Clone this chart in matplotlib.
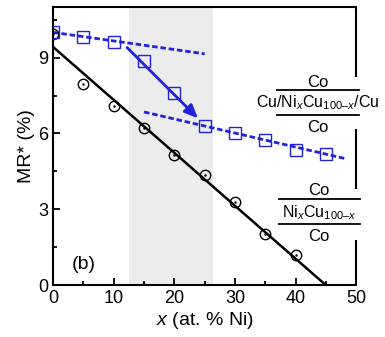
import matplotlib
matplotlib.use('Agg')
import matplotlib.pyplot as plt
from matplotlib.ticker import MultipleLocator

plt.rcParams['font.family'] = ['Liberation Sans', 'DejaVu Sans']
plt.rcParams['mathtext.fontset'] = 'custom'
plt.rcParams['mathtext.rm'] = 'Liberation Sans'
plt.rcParams['mathtext.it'] = 'Liberation Sans:italic'

# 데이터
x_ni = [0, 5, 10, 15, 20, 25, 30, 35, 40]
mr_single = [9.95, 7.97, 7.1, 6.2, 5.15, 4.34, 3.29, 2.01, 1.18]
x_sq = [0, 5, 10, 15, 20, 25, 30, 35, 40, 45]
mr_sandwich = [10.0, 9.8, 9.6, 8.86, 7.6, 6.28, 6.01, 5.75, 5.33, 5.2]

fit_single_x = [0, 45]
fit_single_y = [9.42, 0]
fit_low_x = [0, 25]
fit_low_y = [10.0, 9.15]
fit_high_x = [15, 48.3]
fit_high_y = [6.85, 5.0]

blue = '#2222dd'

fig = plt.figure(figsize=(3.85, 3.37), dpi=100)
ax = fig.add_axes([0.138, 0.154, 0.787, 0.825])

# 회색 영역
ax.axvspan(12.6, 26.4, color='#ececec', zorder=0, lw=0)

ax.plot(fit_single_x, fit_single_y, color='black', lw=1.8, zorder=2)
ax.plot(x_ni, mr_single, 'o', ms=7.5, mfc='none', mec='black', mew=1.0, zorder=3)
ax.plot(x_ni, mr_single, '.', ms=1.5, color='black', zorder=3)

ax.plot(fit_low_x, fit_low_y, color=blue, lw=2, ls=(0, (2, 1)), zorder=2)
ax.plot(fit_high_x, fit_high_y, color=blue, lw=2, ls=(0, (2, 1)), zorder=2)
ax.plot(x_sq, mr_sandwich, 's', ms=8, mfc='none', mec=blue, mew=1.0, zorder=3)

ax.annotate('', xy=(23.9, 6.6), xytext=(12.2, 9.4),
            arrowprops=dict(arrowstyle='-|>,head_length=0.8,head_width=0.35',
                            color=blue, lw=2, shrinkA=0, shrinkB=0))

ax.set_xlim(0, 50)
ax.set_ylim(0, 11)
ax.xaxis.set_major_locator(MultipleLocator(10))
ax.xaxis.set_minor_locator(MultipleLocator(5))
ax.yaxis.set_major_locator(MultipleLocator(3))
ax.yaxis.set_minor_locator(MultipleLocator(1.5))
ax.tick_params(which='both', direction='in', labelsize=13, width=1.3)
ax.tick_params(which='major', length=5)
ax.tick_params(which='minor', length=3)
for s in ['left', 'bottom', 'top']:
    ax.spines[s].set_linewidth(1.5)
ax.spines['right'].set_visible(False)

# 오른쪽 축선 (라벨 부분 끊김)
ytr = ax.get_yaxis_transform()
for y0, y1 in [(8.22, 11), (3.82, 6.19), (0, 1.78)]:
    ax.plot([1, 1], [y0, y1], color='black', lw=1.5, transform=ytr,
            clip_on=False, solid_capstyle='butt')

ax.set_xlabel(r'$\it{x}$ (at. % Ni)', fontsize=14, labelpad=2)
ax.set_ylabel('MR* (%)', fontsize=14, labelpad=2)
ax.text(5, 0.8, '(b)', fontsize=14, ha='center', va='center')

# 구조 라벨
def stack_label(xc, ys, mid, xl):
    ax.text(xc, ys[0], 'Co', fontsize=12, ha='center', va='center', clip_on=False)
    ax.text(xc, ys[2], mid, fontsize=11.5, ha='center', va='baseline', clip_on=False)
    ax.text(xc, ys[4], 'Co', fontsize=12, ha='center', va='center', clip_on=False)
    for yl in (ys[1], ys[3]):
        ax.plot(xl, [yl, yl], color='black', lw=1.3, clip_on=False)

stack_label(43.7, [8.03, 7.70, 7.04, 6.74, 6.25],
            'Cu/Ni$_{\\it{x}}$Cu$_{100\u2013\\it{x}}$/Cu', [37.0, 50.45])
stack_label(43.9, [3.75, 3.42, 2.70, 2.40, 1.91],
            'Ni$_{\\it{x}}$Cu$_{100\u2013\\it{x}}$', [37.2, 50.7])

plt.savefig('out.png', dpi=100)
